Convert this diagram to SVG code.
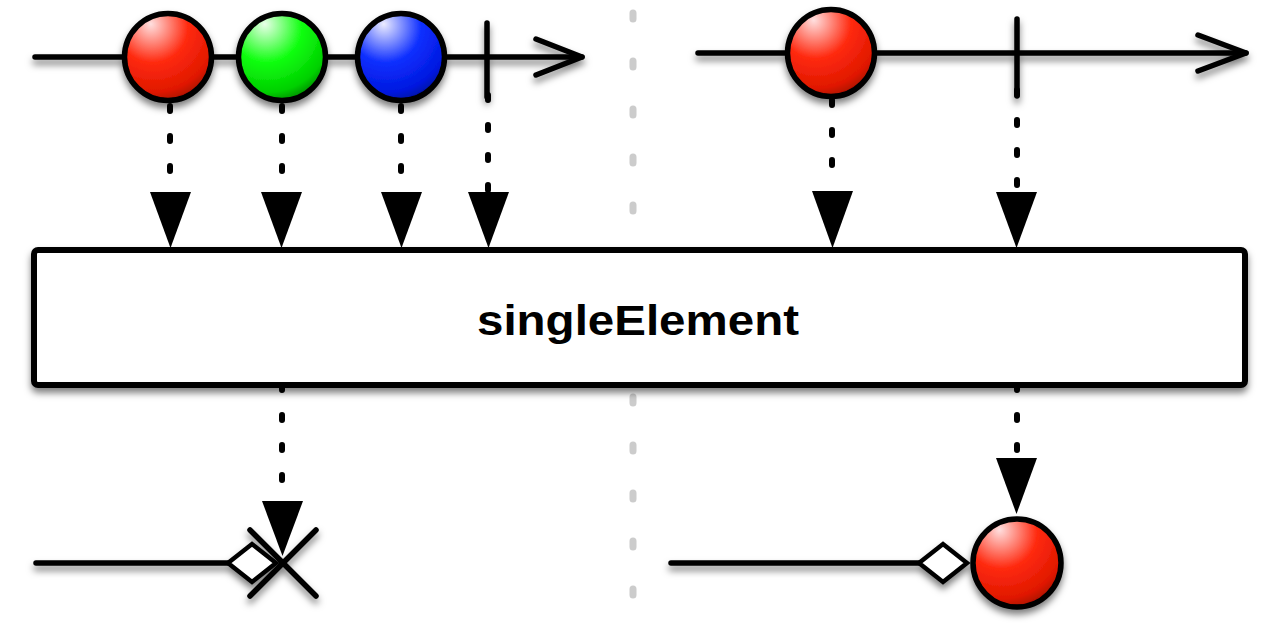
<svg xmlns="http://www.w3.org/2000/svg" width="1280" height="630" viewBox="0 0 1280 630">
<style>
.line{stroke:#000;stroke-width:5.5;fill:none;stroke-linecap:round;stroke-linejoin:round}
.dot{stroke:#000;stroke-width:6;fill:none;stroke-linecap:round;stroke-dasharray:5 25}
.sep{stroke:#cccccc;stroke-width:7;fill:none;stroke-linecap:round;stroke-dasharray:6 42}
.ball{stroke:#000;stroke-width:5.5}
.head{fill:#000;stroke:none}
.dia{fill:#fff;stroke:#000;stroke-width:4.5;stroke-linejoin:miter}
.label{font-family:"Liberation Sans",Arial,sans-serif;font-weight:bold;font-size:42px;fill:#000}
</style>
<defs>
<filter id="sh" x="-10%" y="-30%" width="120%" height="180%">
<feDropShadow dx="0" dy="5" stdDeviation="3.5" flood-color="#000" flood-opacity="0.5"/>
</filter>
<radialGradient id="gRed" cx="0.35" cy="0.2" r="0.9" fx="0.3" fy="0.12">
<stop offset="0" stop-color="#ffe0e0"/>
<stop offset="0.45" stop-color="#ff2a10"/>
<stop offset="0.8" stop-color="#e01800"/>
<stop offset="1" stop-color="#8a0a00"/>
</radialGradient>
<radialGradient id="gGreen" cx="0.35" cy="0.2" r="0.9" fx="0.3" fy="0.12">
<stop offset="0" stop-color="#e8ffe8"/>
<stop offset="0.45" stop-color="#10ff10"/>
<stop offset="0.8" stop-color="#00d000"/>
<stop offset="1" stop-color="#006a00"/>
</radialGradient>
<radialGradient id="gBlue" cx="0.35" cy="0.2" r="0.9" fx="0.3" fy="0.12">
<stop offset="0" stop-color="#ececff"/>
<stop offset="0.45" stop-color="#1030ff"/>
<stop offset="0.8" stop-color="#0018e0"/>
<stop offset="1" stop-color="#000a80"/>
</radialGradient>
</defs>
<rect width="1280" height="630" fill="#fff"/>

<g id="separator">
<line class="sep" x1="633" y1="13" x2="633" y2="630"/>
</g>

<g id="connectors">
<line class="dot" x1="170" y1="106" x2="170" y2="192"/>
<line class="dot" x1="282" y1="106" x2="282" y2="192"/>
<line class="dot" x1="401" y1="106" x2="401" y2="192"/>
<line class="dot" x1="488" y1="95" x2="488" y2="192"/>
<line class="dot" x1="832" y1="100" x2="832" y2="190"/>
<line class="dot" x1="1017" y1="90" x2="1017" y2="190"/>
<line class="dot" x1="282" y1="385" x2="282" y2="500"/>
<line class="dot" x1="1017" y1="385" x2="1017" y2="458"/>
<polygon class="head" points="150,192 191,192 170.5,248"/>
<polygon class="head" points="261,192 302,192 281.5,248"/>
<polygon class="head" points="381,192 422,192 401.5,248"/>
<polygon class="head" points="468,192 509,192 488.5,248"/>
<polygon class="head" points="812,191 853,191 832.5,248"/>
<polygon class="head" points="996,192 1037,192 1016.5,248"/>
<polygon class="head" points="262,501 303,501 282.5,556"/>
<polygon class="head" points="996,458 1037,458 1016.5,514"/>
</g>

<g id="source-left" filter="url(#sh)">
<line class="line" x1="35" y1="57" x2="582" y2="57"/>
<polyline class="line" points="536,39 582,57 536,75"/>
<line class="line" x1="487" y1="23" x2="487" y2="97"/>
<circle class="ball" cx="168" cy="57" r="43.5" fill="url(#gRed)"/>
<circle class="ball" cx="282" cy="57" r="43.5" fill="url(#gGreen)"/>
<circle class="ball" cx="401" cy="57" r="43.5" fill="url(#gBlue)"/>
</g>

<g id="source-right" filter="url(#sh)">
<line class="line" x1="698" y1="53" x2="1246" y2="53"/>
<polyline class="line" points="1198,35 1246,53 1198,71"/>
<line class="line" x1="1017" y1="19" x2="1017" y2="96"/>
<circle class="ball" cx="831" cy="53" r="43.5" fill="url(#gRed)"/>
</g>

<g id="operator">
<rect x="34" y="250" width="1211" height="135" rx="4" ry="4" fill="#fff" stroke="#000" stroke-width="6" filter="url(#sh)"/>
<text class="label" x="638" y="335" text-anchor="middle" textLength="322" lengthAdjust="spacingAndGlyphs">singleElement</text>
</g>

<g id="result-left" filter="url(#sh)">
<line class="line" x1="36" y1="563" x2="228" y2="563"/>
<polygon class="dia" points="228,563 252,544 276,563 252,582"/>
<line class="line" x1="250" y1="530" x2="316" y2="596"/>
<line class="line" x1="316" y1="530" x2="250" y2="596"/>
</g>

<g id="result-right" filter="url(#sh)">
<line class="line" x1="671" y1="563" x2="919" y2="563"/>
<polygon class="dia" points="919,563 943,544 967,563 943,582"/>
<circle class="ball" cx="1017" cy="563" r="44" fill="url(#gRed)"/>
</g>
</svg>
